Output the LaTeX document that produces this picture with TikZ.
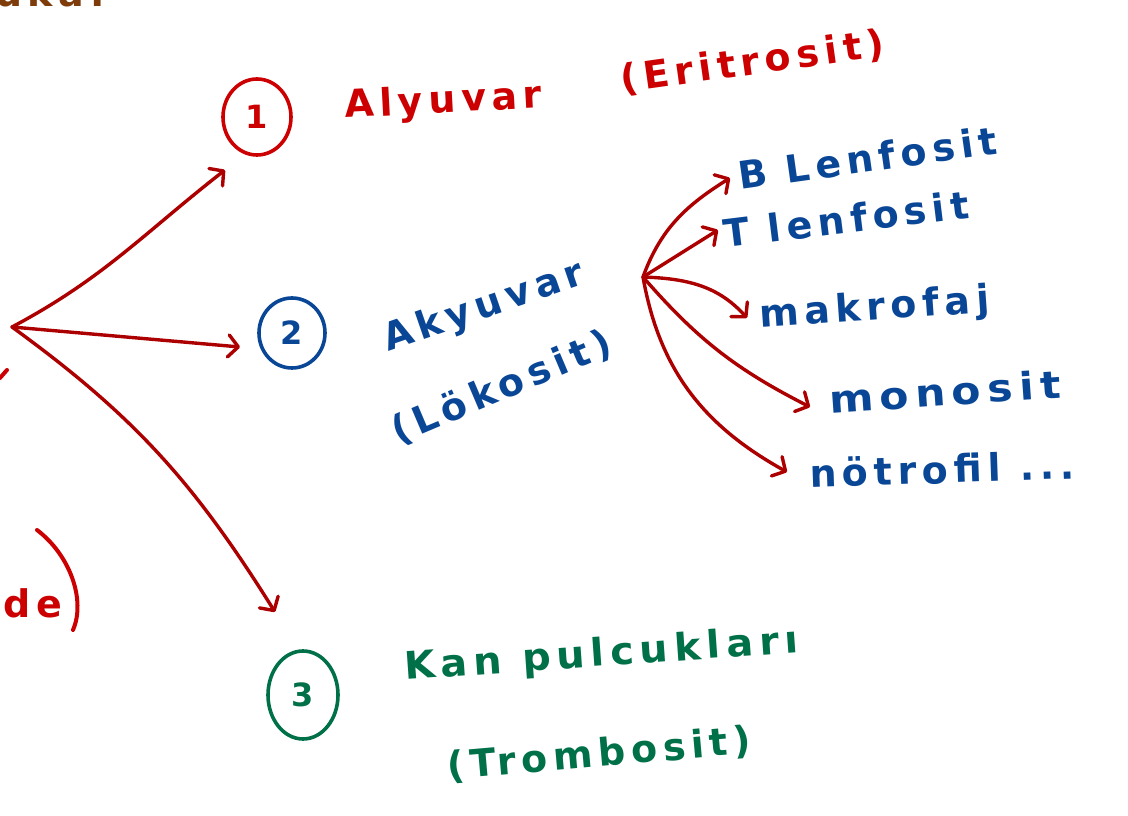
\documentclass[tikz,border=0pt]{standalone}
\usepackage{fontspec}
\newfontfamily\hand[LetterSpace=15]{DejaVu Sans Bold}
\newfontfamily\handplain{DejaVu Sans Bold}
\usetikzlibrary{arrows.meta,shapes.geometric}
\definecolor{inkred}{RGB}{204,0,0}
\definecolor{arrowred}{RGB}{172,0,0}
\definecolor{inkblue}{RGB}{10,70,150}
\definecolor{inkgreen}{RGB}{0,112,72}
\definecolor{inkbrown}{RGB}{125,60,10}
\begin{document}
\begin{tikzpicture}[x=1pt,y=1pt,
  word/.style={font=\hand\fontsize{38}{38}\selectfont, inner sep=0pt, anchor=base west},
  numring/.style={draw, ellipse, line width=3.6pt, inner sep=0pt,
    font=\handplain\fontsize{32}{32}\selectfont},
  link/.style={draw=arrowred, line width=3.4pt, line cap=round,
    -{Straight Barb[length=10pt,width=22pt,line cap=round,line join=round]}},
  scrap/.style={line width=4pt, line cap=round}
]
\useasboundingbox (0,0) rectangle (1128,815);
\clip (0,0) rectangle (1128,815);

% numbered rings
\node[numring, inkred,   minimum width=68pt, minimum height=76pt] (c1) at (257,698) {1};
\node[numring, inkblue,  minimum width=66pt, minimum height=70pt] (c2) at (292,482) {2};
\node[numring, inkgreen, minimum width=70pt, minimum height=88pt] (c3) at (303,120) {3};

% main labels
\node[word, inkred, rotate=3]   (t1)  at (345,697) {Alyuvar};
\node[word, inkred, rotate=8]   (t1b) at (622,722) {(Eritrosit)};
\node[word, inkblue, rotate=19] (t2)  at (388,463) {Akyuvar};
\node[word, inkblue, rotate=23] (t2b) at (398,370) {(Lökosit)};
\node[word, inkgreen, rotate=4, xscale=1.05] (t3)  at (405,135) {Kan pulcukları};
\node[word, inkgreen, rotate=5] (t3b) at (448,35) {(Trombosit)};

% white cell types
\node[word, inkblue, rotate=8] (b)  at (740,625) {B Lenfosit};
\node[word, inkblue, rotate=7] (t)  at (725,567) {T lenfosit};
\node[word, inkblue, rotate=4] (m)  at (760,487) {makrofaj};
\node[word, inkblue, rotate=4, xscale=1.12] (mo) at (830,401) {monosit};
\node[word, inkblue, rotate=2] (n)  at (810,327) {nötrofil ...};

% fragments at the edges
\node[word, inkbrown] (top) at (-5,808) {uka.};
\node[word, inkred] (de) at (-20,197) {(de};
\draw[scrap, inkred] (37,285) .. controls (70,260) and (86,215) .. (73,185);
\draw[scrap, inkred] (0,437) -- (7,445);

% connectors from the blood hub
\coordinate (hub) at (12,488);
\draw[link] (hub) to[out=28,in=218] ([shift={(-32,-53)}]c1.center);
\draw[link] (hub) -- ([shift={(-52,-14)}]c2.center);
\draw[link] (hub) to[out=-36,in=122] ([shift={(-28,83)}]c3.center);

% connectors from the white cell fork
\coordinate (fork) at (643,538);
\draw[link] (fork) to[out=70,in=212] ([shift={(-10,12)}]b.base west);
\draw[link] (fork) -- ([shift={(-7,18)}]t.base west);
\draw[link] (fork) to[out=-2,in=132] ([shift={(-13,10)}]m.base west);
\draw[link] (fork) to[out=-49,in=153] ([shift={(-20,7)}]mo.base west);
\draw[link] (fork) to[out=-80,in=151] ([shift={(-23,16)}]n.base west);
\end{tikzpicture}
\end{document}
